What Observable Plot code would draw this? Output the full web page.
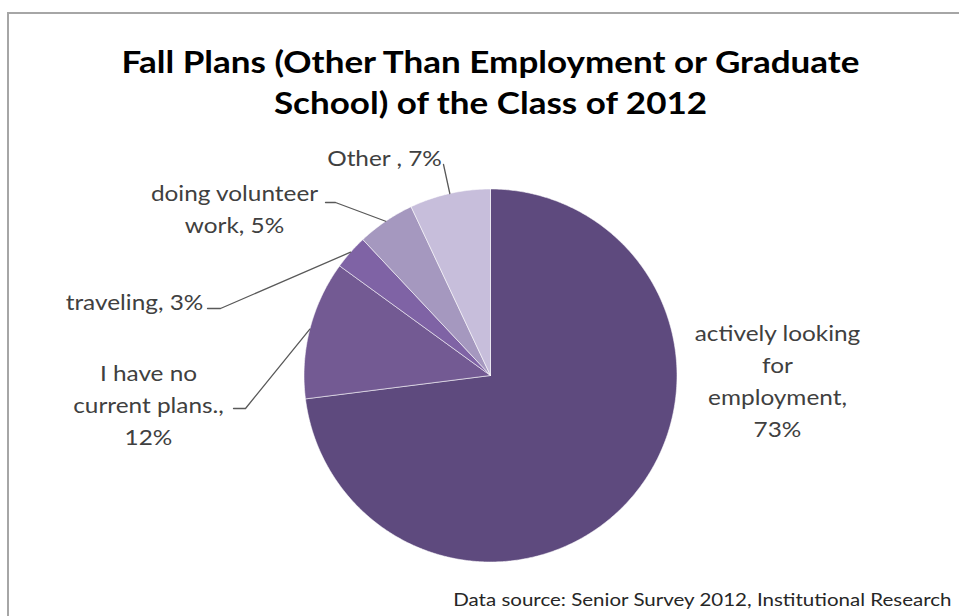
<!DOCTYPE html>
<html><head><meta charset="utf-8">
<script src="https://cdn.jsdelivr.net/npm/d3@7"></script>
<script src="https://cdn.jsdelivr.net/npm/@observablehq/plot@0.6"></script>
<style>
html,body{margin:0;padding:0;background:#fff;overflow:hidden;width:959px;height:616px;}
#frame{position:absolute;left:7px;top:12px;width:1000px;height:700px;border:2px solid #a6a6a6;box-sizing:border-box;pointer-events:none;}
#chart{position:absolute;left:0;top:0;}
</style></head><body>
<div id="chart"></div><div id="frame"></div>
<script>
// ---- data ----
const categories = ["actively looking for employment", "I have no current plans.", "traveling", "doing volunteer work", "Other "];
const values = [73, 12, 3, 5, 7];
const labelTexts = ["actively looking\nfor\nemployment,\n73%", "I have no\ncurrent plans.,\n12%", "traveling, 3%", "doing volunteer\nwork, 5%", "Other , 7%"];
const titleLines = ["Fall Plans (Other Than Employment or Graduate", "School) of the Class of 2012"];
const captionText = "Data source: Senior Survey 2012, Institutional Research";

// ---- styles / layout ----
const colors = ["#5e4a7e", "#735a93", "#7f63a5", "#a598bf", "#c7bedb"];
const W = 959, H = 616;
const cx = 490, cy = 375, R = 186.5;
const labelLayout = [
  {x: 777, y: 378, leader: null},
  {x: 148, y: 402, leader: [[233, 408], [245, 408]]},
  {x: 134, y: 299, leader: [[207, 308], [220, 308]]},
  {x: 234, y: 206, leader: [[325, 202], [335, 202]]},
  {x: 384, y: 155, leader: [[443, 164]]}
];
const stretch = {label: 1.16, title: 1.13, caption: 1.14};

const data = categories.map((c, i) => ({cat: c, value: values[i], label: labelTexts[i]}));
const arcs = d3.pie().sort(null).value(d => d.value)(data);

const slicePts = arcs.flatMap(a => {
  const pts = [{cat: a.data.cat, x: cx, y: cy}];
  const n = Math.max(2, Math.ceil((a.endAngle - a.startAngle) / (Math.PI / 360)));
  for (let i = 0; i <= n; i++) {
    const t = a.startAngle + (a.endAngle - a.startAngle) * i / n;
    pts.push({cat: a.data.cat, x: cx + R * Math.sin(t), y: cy - R * Math.cos(t)});
  }
  pts.push({cat: a.data.cat, x: cx, y: cy});
  return pts;
});

const leaderPts = arcs.flatMap((a, i) => {
  const L = labelLayout[i];
  if (!L.leader) return [];
  const m = (a.startAngle + a.endAngle) / 2;
  const pts = L.leader.map(([x, y]) => ({cat: a.data.cat, x, y}));
  pts.push({cat: a.data.cat, x: cx + R * Math.sin(m), y: cy - R * Math.cos(m)});
  return pts;
});

const labelData = arcs.map((a, i) => ({text: a.data.label, x: labelLayout[i].x, y: labelLayout[i].y}));

const font = "Lato, 'Open Sans', sans-serif";

const chart = Plot.plot({
  width: W, height: H,
  margin: 0,
  x: {domain: [0, W], range: [0, W], axis: null},
  y: {domain: [0, H], range: [0, H], axis: null},
  color: {domain: categories, range: colors},
  style: {fontFamily: font, background: "transparent"},
  marks: [
    Plot.line(slicePts, {x: "x", y: "y", z: "cat", fill: "cat", stroke: "#ffffff", strokeWidth: 1, strokeOpacity: 0.55, curve: "linear"}),
    Plot.line(leaderPts, {x: "x", y: "y", z: "cat", stroke: "#595959", strokeWidth: 1.3}),
    Plot.text(labelData, {x: "x", y: "y", text: "text", fontSize: 21, fill: "#404040", lineHeight: 1.52, fontFamily: font}),
    Plot.text([{t: titleLines.join("\n"), x: 490, y: 79.5}], {x: "x", y: "y", text: "t", fontSize: 31, fontWeight: "bold", fill: "#000", lineHeight: 1.33, fontFamily: font}),
    Plot.text([{t: captionText, x: 951, y: 600}], {x: "x", y: "y", text: "t", fontSize: 18, fill: "#262626", textAnchor: "end", fontFamily: font})
  ]
});
// stretch text horizontally to match the reference's wide glyphs
const groups = chart.querySelectorAll('g[aria-label="text"]');
const sx = [stretch.label, stretch.title, stretch.caption];
groups.forEach((g, gi) => {
  g.querySelectorAll("text").forEach(t => {
    const tr = t.getAttribute("transform") || "";
    t.setAttribute("transform", tr + ` scale(${sx[gi]},1)`);
  });
});
document.getElementById("chart").appendChild(chart);
</script>
</body></html>
